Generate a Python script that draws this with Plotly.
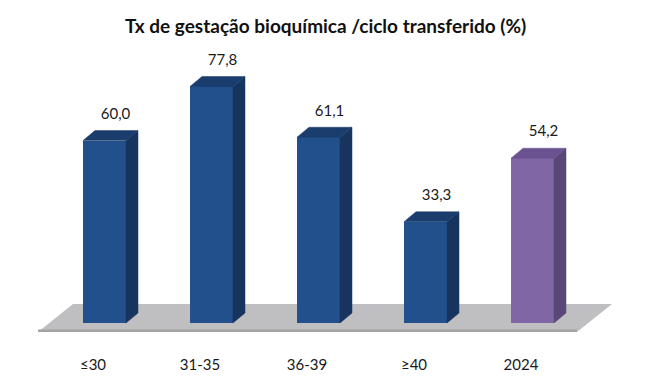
import plotly.graph_objects as go

# ---- data ----
categories = ["≤30", "31-35", "36-39", "≥40", "2024"]
values = [60.0, 77.8, 61.1, 33.3, 54.2]
value_labels = ["60,0", "77,8", "61,1", "33,3", "54,2"]
title_text = "Tx de gestação bioquímica /ciclo transferido (%)"

# ---- style ----
front_colors = ["#22508c", "#22508c", "#22508c", "#22508c", "#8166a6"]
side_colors = ["#17345e", "#17345e", "#17345e", "#17345e", "#5b4679"]
top_colors = ["#1b3d6d", "#1b3d6d", "#1b3d6d", "#1b3d6d", "#6a5291"]
FLOOR_COLOR = "#bfbfc1"
FLOOR_EDGE = "#a3a3a5"

PAGE = 8            # default body margin of the html page
W, H = 655 - PAGE, 378 - PAGE
PX_X = 107.0        # pixels per category step
PX_Y = 3.04         # pixels per percentage point
X0_PX = 104.5 - PAGE  # pixel x of first category
Y0_PX = 323.0 - PAGE  # pixel y of value zero
B_MARGIN = 24
plot_h = H - B_MARGIN

BAR_W = 43 / PX_X
DX = 12 / PX_X
DY = 10 / PX_Y
FLOOR_FRONT_Y = -9 / PX_Y
FLOOR_BACK_Y = 19 / PX_Y
FLOOR_LEFT = -66.5 / PX_X
FLOOR_RIGHT = 44.5 / PX_X
FLOOR_SHIFT = 35 / PX_X
TICK_SHIFT = -11.5 / PX_X
LABEL_DX = 11 / PX_X
LABEL_DY = 25.5 / PX_Y

xs = list(range(len(categories)))

fig = go.Figure()

# front faces
fig.add_trace(go.Bar(
    x=xs, y=values, width=BAR_W, marker=dict(color=front_colors, line=dict(width=0)),
    hoverinfo="skip", showlegend=False,
))

# side and top faces
for x, v, sc, tc in zip(xs, values, side_colors, top_colors):
    r = x + BAR_W / 2
    l = x - BAR_W / 2
    fig.add_trace(go.Scatter(
        x=[r, r + DX, r + DX, r, r], y=[0, DY, v + DY, v, 0],
        fill="toself", fillcolor=sc, mode="lines", line=dict(color=sc, width=0.5),
        hoverinfo="skip", showlegend=False,
    ))
    fig.add_trace(go.Scatter(
        x=[l, r, r + DX, l + DX, l], y=[v, v, v + DY, v + DY, v],
        fill="toself", fillcolor=tc, mode="lines", line=dict(color=tc, width=0.5),
        hoverinfo="skip", showlegend=False,
    ))

# value labels
fig.add_trace(go.Scatter(
    x=[x + LABEL_DX for x in xs], y=[v + LABEL_DY for v in values],
    mode="text", text=value_labels, textposition="middle center",
    textfont=dict(family="Lato", size=15, color="#1a1a1a"),
    hoverinfo="skip", showlegend=False,
))

# floor (decoration)
n = len(categories)
fl, fr = FLOOR_LEFT, (n - 1) + FLOOR_RIGHT
path = (f"M {fl},{FLOOR_FRONT_Y} L {fr},{FLOOR_FRONT_Y} "
        f"L {fr + FLOOR_SHIFT},{FLOOR_BACK_Y} L {fl + FLOOR_SHIFT},{FLOOR_BACK_Y} Z")
fig.add_shape(type="path", path=path, xref="x", yref="y", layer="below",
              fillcolor=FLOOR_COLOR, line=dict(width=0))
fig.add_shape(type="line", x0=fl, x1=fr, y0=FLOOR_FRONT_Y + 0.4, y1=FLOOR_FRONT_Y + 0.4,
              xref="x", yref="y", layer="below", line=dict(color=FLOOR_EDGE, width=2.5))

fig.add_annotation(
    text=f"<b>{title_text}</b>", x=(325.5 - PAGE) / W, y=1 - (25.5 - PAGE) / plot_h,
    xref="paper", yref="paper",
    xanchor="center", yanchor="middle", showarrow=False,
    font=dict(family="Lato", size=19, color="#111111"),
)

fig.update_layout(
    width=W, height=H,
    margin=dict(l=0, r=0, t=0, b=B_MARGIN, pad=0),
    paper_bgcolor="white", plot_bgcolor="white",
    xaxis=dict(range=[-X0_PX / PX_X, (W - X0_PX) / PX_X], showgrid=False, zeroline=False,
               showline=False, ticks="", tickvals=[x + TICK_SHIFT for x in xs],
               ticktext=categories, tickfont=dict(family="Lato", size=15, color="#1a1a1a"),
               fixedrange=True),
    yaxis=dict(range=[(Y0_PX - plot_h) / PX_Y, Y0_PX / PX_Y], showgrid=False, zeroline=False,
               showline=False, showticklabels=False, ticks="", fixedrange=True),
    bargap=0,
)

fig.write_html("out.html")
